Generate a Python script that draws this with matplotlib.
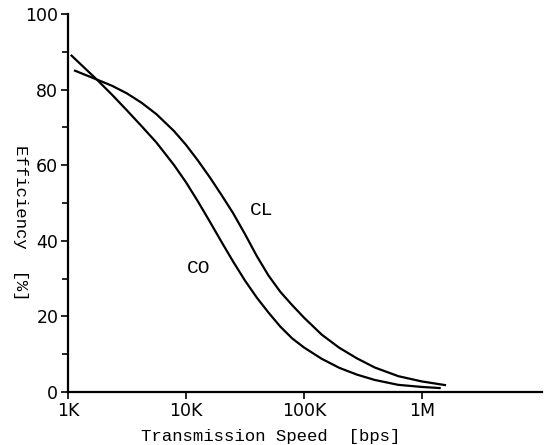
# -*- coding: utf-8 -*-

import numpy
import matplotlib
from matplotlib import pyplot as plt
from matplotlib.ticker import FixedLocator, NullLocator

# values (speed in bps, efficiency in %)
speed_co = [1.072e3, 1.778e3, 2.371e3, 3.162e3, 4.217e3, 5.623e3, 7.943e3, 1.0e4, 1.259e4,
            1.585e4, 1.995e4, 2.512e4, 3.162e4, 3.981e4, 5.012e4, 6.310e4, 7.943e4,
            1.0e5, 1.413e5, 1.995e5, 2.818e5, 3.981e5, 6.310e5, 1.0e6, 1.413e6]
eff_co = [89.0, 82.5, 78.6, 74.5, 70.3, 66.0, 60.0, 55.5, 50.5,
          45.2, 39.8, 34.5, 29.5, 25.0, 21.0, 17.3, 14.2,
          11.8, 8.8, 6.4, 4.6, 3.2, 1.9, 1.35, 1.06]

speed_cl = [1.148e3, 1.778e3, 2.371e3, 3.162e3, 4.217e3, 5.623e3, 7.943e3, 1.0e4, 1.259e4,
            1.585e4, 1.995e4, 2.512e4, 3.162e4, 3.981e4, 5.012e4, 6.310e4, 7.943e4,
            1.0e5, 1.413e5, 1.995e5, 2.818e5, 3.981e5, 6.310e5, 1.0e6, 1.567e6]
eff_cl = [85.0, 82.6, 81.0, 79.0, 76.5, 73.5, 69.0, 65.4, 61.3,
          56.9, 52.2, 47.3, 41.8, 36.0, 30.8, 26.5, 23.0,
          19.7, 15.2, 11.7, 8.9, 6.5, 4.2, 2.8, 1.85]

x_ticks = [1e3, 1e4, 1e5, 1e6]
x_labels = ['1K', '10K', '100K', '1M']
y_ticks = [0, 20, 40, 60, 80, 100]

mono = 'Liberation Mono'

fig = plt.figure(figsize=(5.46, 4.45), dpi=100)
ax = fig.add_axes([0.1245, 0.119, 0.868, 0.8495])

ax.plot(speed_co, eff_co, color='black', lw=1.6)
ax.plot(speed_cl, eff_cl, color='black', lw=1.6)

ax.set_xscale('log')
ax.set_xlim(1e3, 1.04e7)
ax.set_ylim(0, 100)

ax.spines['top'].set_visible(False)
ax.spines['right'].set_visible(False)
ax.spines['left'].set_linewidth(1.6)
ax.spines['bottom'].set_linewidth(1.6)

ax.xaxis.set_major_locator(FixedLocator(x_ticks))
ax.xaxis.set_minor_locator(NullLocator())
ax.set_xticklabels(x_labels)
ax.yaxis.set_major_locator(FixedLocator(y_ticks))
ax.yaxis.set_minor_locator(FixedLocator([10, 30, 50, 70, 90]))

ax.tick_params(axis='both', which='major', direction='out', length=5, width=1.2,
               labelsize=12.5, pad=2)
ax.tick_params(axis='y', which='minor', direction='out', length=4, width=1.2)

ax.text(4.4e4, 48, 'CL', family=mono, fontsize=14, ha='center', va='center')
ax.text(1.27e4, 32.8, 'CO', family=mono, fontsize=14, ha='center', va='center')

fig.text(0.495, 0.02, 'Transmission Speed  [bps]', family=mono, fontsize=12.5,
         ha='center', va='center')
fig.text(0.037, 0.5, 'Efficiency  [%]', family=mono, fontsize=12.5,
         rotation=270, ha='center', va='center')

plt.savefig('out.png', dpi=100)
